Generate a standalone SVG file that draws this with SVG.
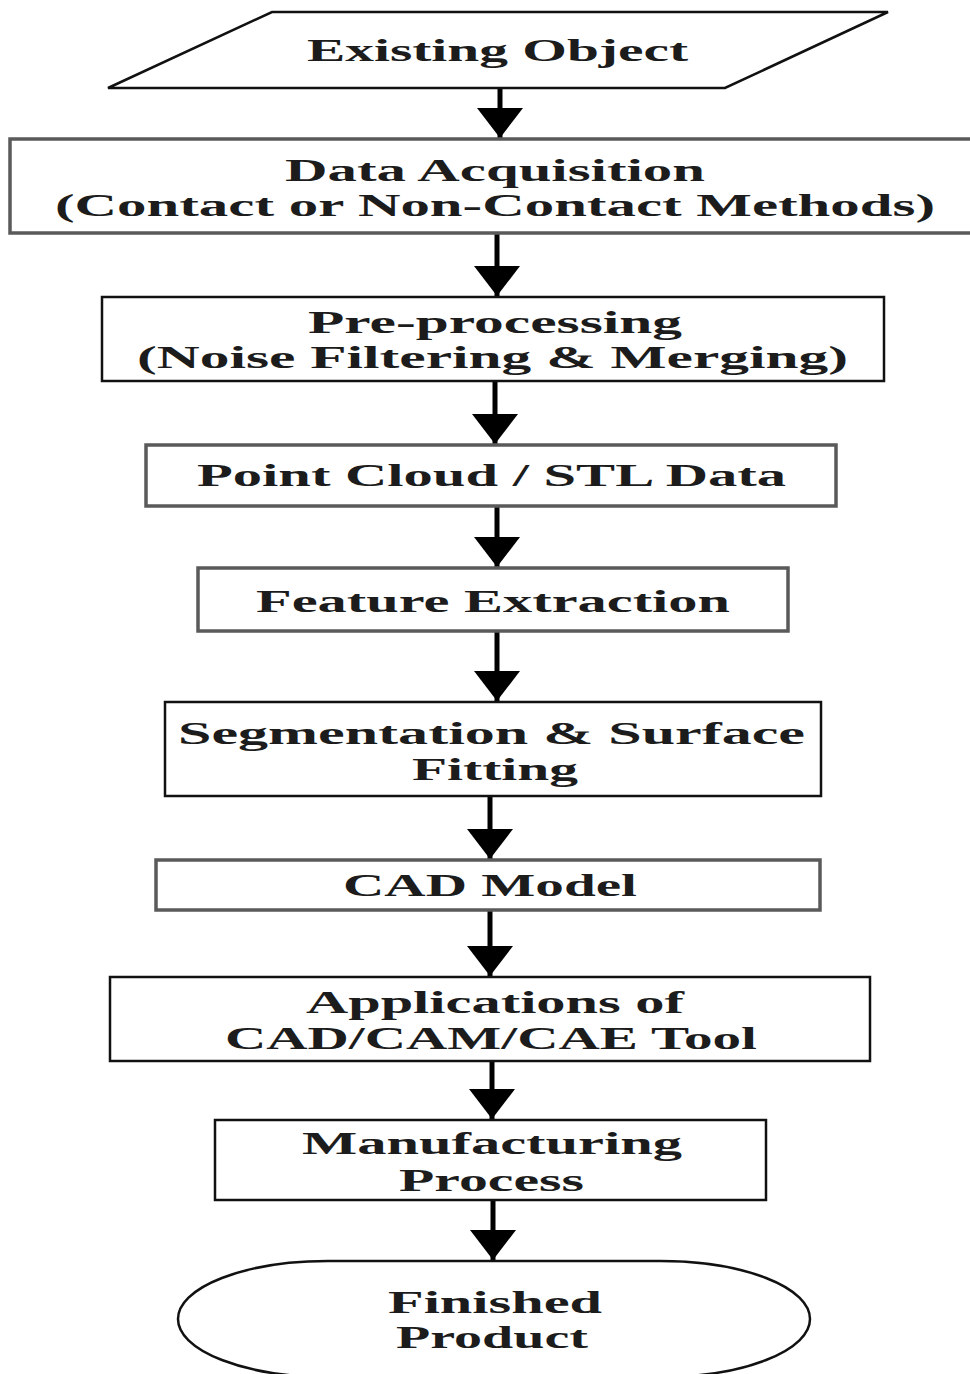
<svg xmlns="http://www.w3.org/2000/svg" width="970" height="1374" viewBox="0 0 970 1374">
<style>
  .bg { fill: #ffffff; }
  .node { fill: #ffffff; stroke: #111111; stroke-width: 2.5; }
  .gray { stroke: #5a5a5a; stroke-width: 3.5; }
  .lbl { font-family: "Liberation Serif", "Times New Roman", serif; font-weight: bold; font-size: 32px; fill: #1c1c1c; }
  .conn { stroke: #000000; stroke-width: 5; fill: none; marker-end: url(#arrow); }
</style>
<defs>
  <marker id="arrow" markerUnits="userSpaceOnUse" viewBox="0 0 30 46" markerWidth="30" markerHeight="46" refX="30" refY="23" orient="auto">
    <path d="M0,0 L30,23 L0,46 z" fill="#000000"/>
  </marker>
</defs>
<rect class="bg" x="0" y="0" width="970" height="1374"/>

<g id="connectors">
  <line class="conn" x1="500" y1="88" x2="500" y2="138"/>
  <line class="conn" x1="497" y1="233" x2="497" y2="296"/>
  <line class="conn" x1="495" y1="381" x2="495" y2="444"/>
  <line class="conn" x1="497" y1="506" x2="497" y2="567"/>
  <line class="conn" x1="497" y1="631" x2="497" y2="701"/>
  <line class="conn" x1="490" y1="796" x2="490" y2="859"/>
  <line class="conn" x1="490" y1="910" x2="490" y2="976"/>
  <line class="conn" x1="492" y1="1061" x2="492" y2="1119"/>
  <line class="conn" x1="493" y1="1200" x2="493" y2="1260"/>
</g>

<g id="existing-object">
  <polygon class="node" points="272,12 888,12 725,88 108,88"/>
  <text class="lbl" x="307" y="61" textLength="381" lengthAdjust="spacingAndGlyphs">Existing Object</text>
</g>

<g id="data-acquisition">
  <rect class="node gray" x="10" y="139" width="962" height="94"/>
  <text class="lbl" x="285" y="181" textLength="420" lengthAdjust="spacingAndGlyphs">Data Acquisition</text>
  <text class="lbl" x="55" y="216" textLength="880" lengthAdjust="spacingAndGlyphs">(Contact or Non-Contact Methods)</text>
</g>

<g id="pre-processing">
  <rect class="node" x="102" y="297" width="782" height="84"/>
  <text class="lbl" x="308" y="333" textLength="374" lengthAdjust="spacingAndGlyphs">Pre-processing</text>
  <text class="lbl" x="137" y="368" textLength="711" lengthAdjust="spacingAndGlyphs">(Noise Filtering &amp; Merging)</text>
</g>

<g id="point-cloud">
  <rect class="node gray" x="146" y="445" width="690" height="61"/>
  <text class="lbl" x="197" y="486" textLength="589" lengthAdjust="spacingAndGlyphs">Point Cloud / STL Data</text>
</g>

<g id="feature-extraction">
  <rect class="node gray" x="198" y="568" width="590" height="63"/>
  <text class="lbl" x="256" y="612" textLength="474" lengthAdjust="spacingAndGlyphs">Feature Extraction</text>
</g>

<g id="segmentation">
  <rect class="node" x="165" y="702" width="656" height="94"/>
  <text class="lbl" x="178" y="744" textLength="627" lengthAdjust="spacingAndGlyphs">Segmentation &amp; Surface</text>
  <text class="lbl" x="412" y="780" textLength="166" lengthAdjust="spacingAndGlyphs">Fitting</text>
</g>

<g id="cad-model">
  <rect class="node gray" x="156" y="860" width="664" height="50"/>
  <text class="lbl" x="343" y="896" textLength="294" lengthAdjust="spacingAndGlyphs">CAD Model</text>
</g>

<g id="applications">
  <rect class="node" x="110" y="977" width="760" height="84"/>
  <text class="lbl" x="306" y="1013" textLength="378" lengthAdjust="spacingAndGlyphs">Applications of</text>
  <text class="lbl" x="225" y="1049" textLength="532" lengthAdjust="spacingAndGlyphs">CAD/CAM/CAE Tool</text>
</g>

<g id="manufacturing">
  <rect class="node" x="215" y="1120" width="551" height="80"/>
  <text class="lbl" x="302" y="1154" textLength="380" lengthAdjust="spacingAndGlyphs">Manufacturing</text>
  <text class="lbl" x="399" y="1191" textLength="185" lengthAdjust="spacingAndGlyphs">Process</text>
</g>

<g id="finished-product">
  <rect class="node" x="178" y="1261" width="632" height="116" rx="150" ry="58"/>
  <text class="lbl" x="388" y="1313" textLength="214" lengthAdjust="spacingAndGlyphs">Finished</text>
  <text class="lbl" x="396" y="1348" textLength="192" lengthAdjust="spacingAndGlyphs">Product</text>
</g>
</svg>
